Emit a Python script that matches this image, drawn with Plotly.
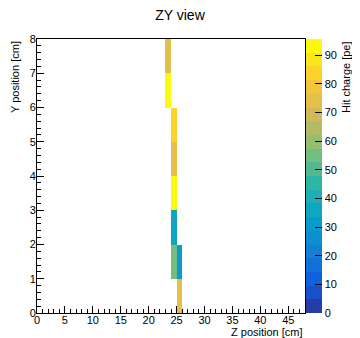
import plotly.graph_objects as go
import numpy as np

# Data: hit cells (Z bin lower edge [cm], Y bin lower edge [cm], charge [pe])
hit_z = [23, 23, 24, 24, 24, 24, 24, 25, 25]
hit_y = [7, 6, 5, 4, 3, 2, 1, 1, 0]
hit_charge = [72, 95.6, 86, 72, 95, 36, 56, 33, 72]

z_edges = list(range(0, 49))
y_edges = list(range(0, 9))
z_max = 95.6
n_levels = 20

# kBird palette
stops = [0.0, 0.125, 0.25, 0.375, 0.5, 0.625, 0.75, 0.875, 1.0]
red = [0.2082, 0.0592, 0.0780, 0.0232, 0.1802, 0.5301, 0.8186, 0.9956, 0.9764]
green = [0.1664, 0.3599, 0.5041, 0.6419, 0.7178, 0.7492, 0.7328, 0.7862, 0.9832]
blue = [0.5293, 0.8684, 0.8385, 0.7914, 0.6425, 0.4662, 0.3499, 0.1968, 0.0539]

def bird(f):
    r = np.interp(f, stops, red); g = np.interp(f, stops, green); b = np.interp(f, stops, blue)
    return f"rgb({int(r*255)},{int(g*255)},{int(b*255)})"

colorscale = []
for i in range(n_levels):
    c = bird(min(1.0, (i + 0.99) / n_levels))
    colorscale.append([i / n_levels, c])
    colorscale.append([(i + 1) / n_levels, c])

xc = [(z_edges[i] + z_edges[i + 1]) / 2 for i in range(len(z_edges) - 1)]
yc = [(y_edges[i] + y_edges[i + 1]) / 2 for i in range(len(y_edges) - 1)]
zmat = [[None] * len(xc) for _ in yc]
for zb, yb, q in zip(hit_z, hit_y, hit_charge):
    zmat[yb][zb] = q

# page body has an 8px default margin; size the figure to the visible area
OFF = 8
W, H = 360 - OFF, 338 - OFF
L, T = 37 - OFF, 39 - OFF
R, B = W - (305 - OFF), H - (313 - OFF)
pw = W - L - R
ph = H - T - B

fig = go.Figure(go.Heatmap(
    x=xc, y=yc, z=zmat, colorscale=colorscale, zmin=0, zmax=z_max,
    hoverongaps=False,
    colorbar=dict(
        x=1.0 + 1 / pw, xanchor="left", xpad=0, y=0.5, yanchor="middle",
        len=1, lenmode="fraction", ypad=0, thickness=16, outlinewidth=0,
        tickmode="linear", tick0=0, dtick=10, ticks="inside", ticklen=7,
        tickcolor="black", tickfont=dict(family="Liberation Sans", size=11, color="black"),
    ),
))

axis_font = dict(family="Liberation Sans", size=11, color="black")
fig.update_xaxes(
    range=[0, 48], showgrid=False, zeroline=False, showline=True, linecolor="black",
    linewidth=1, mirror=True, ticks="inside", ticklen=7, tickcolor="black",
    tickmode="linear", tick0=0, dtick=5, tickfont=axis_font, automargin=False,
    ticklabelstandoff=-3,
    minor=dict(dtick=1, ticks="inside", ticklen=4, tickcolor="black"),
)
fig.update_yaxes(
    range=[0, 8], showgrid=False, zeroline=False, showline=True, linecolor="black",
    linewidth=1, mirror=True, ticks="inside", ticklen=7, tickcolor="black",
    tickmode="linear", tick0=0, dtick=1, tickfont=axis_font, automargin=False,
    ticklabelstandoff=-2,
    minor=dict(dtick=0.2, ticks="inside", ticklen=4, tickcolor="black"),
)

fig.update_layout(
    width=W, height=H, margin=dict(l=L, r=R, t=T, b=B, autoexpand=False),
    paper_bgcolor="white", plot_bgcolor="white",
    title=dict(text="ZY view", x=(180 - OFF) / W, xref="container", xanchor="center",
               y=1 - (15 - OFF) / H, yanchor="middle",
               font=dict(family="Liberation Sans", size=14, color="black")),
    annotations=[
        dict(text="Z position [cm]", xref="paper", yref="paper", x=1.0, xanchor="right",
             y=-(332 - 313) / ph, yanchor="middle", showarrow=False, font=axis_font),
        dict(text="Y position [cm]", xref="paper", yref="paper", x=(15 - 37) / pw, xanchor="center",
             y=1.0, yanchor="top", textangle=-90, showarrow=False, font=axis_font),
        dict(text="Hit charge [pe]", xref="paper", yref="paper", x=(346 - 37) / pw, xanchor="center",
             y=1.0, yanchor="top", textangle=-90, showarrow=False, font=axis_font),
    ],
)

fig.write_html("out.html")
